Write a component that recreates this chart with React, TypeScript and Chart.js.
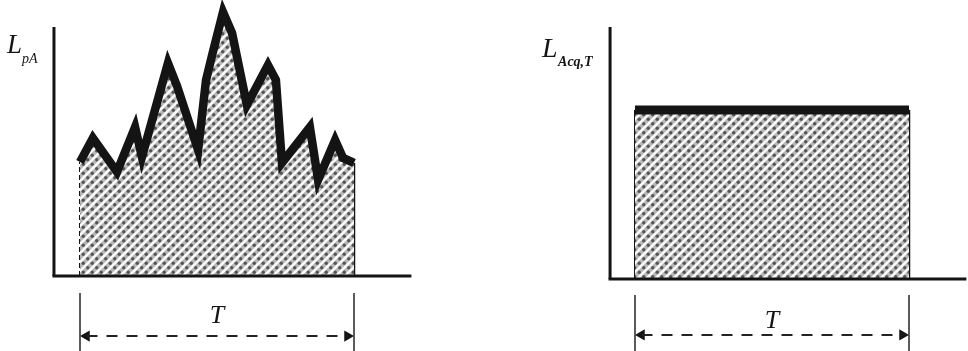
import React, { useEffect, useRef } from "react";
import { Chart, registerables } from "chart.js";

Chart.register(...registerables);

// ---- data ----
// Left panel: instantaneous A-weighted level L_pA over the period T (0..100)
const lpaTimes = [0, 4.7, 13.5, 20.1, 22.6, 32.1, 35.4, 43.1, 46.0, 48.5, 52.2, 55.5, 60.9, 68.6, 71.5, 73.7, 83.9, 86.9, 93.1, 96.0, 100];
const lpaLevels = [45.8, 55.4, 41.8, 59.8, 47.8, 85.5, 76.3, 50.6, 78.7, 90.0, 106.0, 97.6, 68.7, 84.7, 78.7, 45.4, 59.8, 38.6, 54.6, 47.4, 45.4];
// Right panel: equivalent continuous level over the same period
const laeqTimes = [0, 100];
const laeqLevels = [67.1, 67.1];
// Period bounds and labels
const periodBounds = [0, 100];
const leftAxisLabel = ["L", "pA"];
const rightAxisLabel = ["L", "Acq,T"];
const periodLabel = "T";

type PanelSpec = {
  times: number[];
  levels: number[];
  axisLabel: string[];
  xMin: number;
  xMax: number;
  yMin: number;
  yMax: number;
  axisX: number;
  axisTop: number;
  axisRight: number;
  tickTop: number;
  arrowY: number;
  labelY: number;
  pxPerX: number;
  topWidth: number;
  leftDashed: boolean;
  lab: { lx: number; ly: number; sx: number; sy: number; lsize: number; ssize: number; sweight: string };
};

const INK = "#141414";

function makePattern(): CanvasPattern | string {
  const s = 9;
  const t = document.createElement("canvas");
  t.width = s;
  t.height = s;
  const c = t.getContext("2d");
  if (!c) return "#b0b0b0";
  c.fillStyle = "#b8b8b8";
  c.fillRect(0, 0, s, s);
  c.strokeStyle = "#fafafa";
  c.lineWidth = 2.6;
  for (const k of [0, s, 2 * s]) {
    c.beginPath();
    c.moveTo(k + 1, -1);
    c.lineTo(-1, k + 1);
    c.stroke();
  }
  c.fillStyle = "#555555";
  for (const p of [2.25, 6.75]) {
    c.beginPath();
    c.arc(p, p, 1.7, 0, Math.PI * 2);
    c.fill();
  }
  const pat = c.createPattern(t, "repeat");
  return pat || "#b0b0b0";
}

function buildChart(canvas: HTMLCanvasElement, spec: PanelSpec) {
  const pattern = makePattern();
  const [t0, t1] = periodBounds;
  const headR = 6.5;
  const off = headR / spec.pxPerX;
  const series = spec.times.map((t, i) => ({ x: t, y: spec.levels[i] }));
  const first = spec.levels[0];
  const last = spec.levels[spec.levels.length - 1];

  const labelPlugin = {
    id: "panelLabels",
    afterDraw(chart: any) {
      const ctx = chart.ctx as CanvasRenderingContext2D;
      const xs = chart.scales.x;
      const ys = chart.scales.y;
      ctx.save();
      ctx.fillStyle = INK;
      ctx.font = 'italic 26px "Liberation Serif", "DejaVu Serif", serif';
      ctx.textAlign = "center";
      ctx.textBaseline = "middle";
      ctx.fillText(periodLabel, xs.getPixelForValue((t0 + t1) / 2), ys.getPixelForValue(spec.labelY));
      const ax = xs.getPixelForValue(spec.axisX);
      const at = ys.getPixelForValue(spec.axisTop);
      ctx.textAlign = "left";
      ctx.textBaseline = "alphabetic";
      ctx.font = `italic ${spec.lab.lsize}px "Liberation Serif", "DejaVu Serif", serif`;
      ctx.fillText(spec.axisLabel[0], ax + spec.lab.lx, at + spec.lab.ly);
      ctx.font = `italic ${spec.lab.sweight} ${spec.lab.ssize}px "Liberation Serif", "DejaVu Serif", serif`;
      ctx.fillText(spec.axisLabel[1], ax + spec.lab.sx, at + spec.lab.sy);
      ctx.restore();
    },
  };

  const line = (data: { x: number; y: number }[], extra: any) => ({
    data,
    showLine: true,
    pointRadius: 0,
    borderColor: INK,
    backgroundColor: INK,
    tension: 0,
    fill: false,
    clip: false,
    ...extra,
  });

  return new Chart(canvas, {
    type: "scatter",
    data: {
      datasets: [
        // signal / level line with hatched area
        line(series, {
          borderWidth: spec.topWidth,
          borderJoinStyle: "miter",
          borderCapStyle: "butt",
          fill: "origin",
          backgroundColor: pattern,
          order: 1,
        }),
        // period edges
        line([{ x: t0, y: 0 }, { x: t0, y: first }], {
          borderWidth: 2,
          borderDash: spec.leftDashed ? [5, 3] : [],
          order: 2,
        }),
        line([{ x: t1, y: 0 }, { x: t1, y: last }], { borderWidth: 2.5, order: 2 }),
        // axes
        line([{ x: spec.axisX, y: 0 }, { x: spec.axisRight, y: 0 }], { borderWidth: 3, borderCapStyle: "square", order: 0 }),
        line([{ x: spec.axisX, y: 0 }, { x: spec.axisX, y: spec.axisTop }], { borderWidth: 3, borderCapStyle: "butt", order: 0 }),
        // dimension ticks
        line([{ x: t0, y: spec.tickTop }, { x: t0, y: spec.yMin }], { borderWidth: 1.6, borderColor: "#333", order: 0 }),
        line([{ x: t1, y: spec.tickTop }, { x: t1, y: spec.yMin }], { borderWidth: 1.6, borderColor: "#333", order: 0 }),
        // dashed dimension line
        line([{ x: t0 + off, y: spec.arrowY }, { x: t1 - off, y: spec.arrowY }], {
          borderWidth: 2,
          borderDash: [11, 9],
          borderColor: "#222",
          order: 0,
        }),
        // arrow heads
        {
          data: [{ x: t0 + off, y: spec.arrowY }, { x: t1 - off, y: spec.arrowY }],
          showLine: false,
          pointStyle: "triangle",
          pointRadius: headR,
          pointRotation: [-90, 90],
          pointBorderWidth: 0,
          pointBackgroundColor: INK,
          pointBorderColor: INK,
          clip: false,
          order: 0,
        } as any,
      ],
    },
    options: {
      animation: false,
      responsive: false,
      maintainAspectRatio: false,
      layout: { padding: 0, autoPadding: false },
      events: [],
      scales: {
        x: { type: "linear", display: false, min: spec.xMin, max: spec.xMax },
        y: { type: "linear", display: false, min: spec.yMin, max: spec.yMax },
      },
      plugins: {
        legend: { display: false },
        tooltip: { enabled: false },
        title: { display: false },
      },
    },
    plugins: [labelPlugin],
  } as any);
}

const leftSpec: PanelSpec = {
  times: lpaTimes,
  levels: lpaLevels,
  axisLabel: leftAxisLabel,
  xMin: -80 / 2.74,
  xMax: (484 - 80) / 2.74,
  yMin: -(351 - 276) / 2.49,
  yMax: 276 / 2.49,
  axisX: -9.5,
  axisTop: 100,
  axisRight: 120.4,
  tickTop: -6.8,
  arrowY: -24.1,
  labelY: -16.3,
  pxPerX: 2.74,
  topWidth: 8.5,
  leftDashed: true,
  lab: { lx: -47, ly: 26, sx: -32, sy: 36, lsize: 27, ssize: 14, sweight: "normal" },
};

const rightSpec: PanelSpec = {
  times: laeqTimes,
  levels: laeqLevels,
  axisLabel: rightAxisLabel,
  xMin: -151 / 2.74,
  xMax: (484 - 151) / 2.74,
  yMin: -(351 - 279) / 2.52,
  yMax: 279 / 2.52,
  axisX: -9.1,
  axisTop: 100,
  axisRight: 120.4,
  tickTop: -6.3,
  arrowY: -22.2,
  labelY: -16.9,
  pxPerX: 2.74,
  topWidth: 9,
  leftDashed: false,
  lab: { lx: -68, ly: 30, sx: -52, sy: 39, lsize: 28, ssize: 14, sweight: "bold" },
};

function Panel({ spec, left }: { spec: PanelSpec; left: number }) {
  const ref = useRef<HTMLCanvasElement | null>(null);
  useEffect(() => {
    if (!ref.current) return;
    const chart = buildChart(ref.current, spec);
    return () => chart.destroy();
  }, [spec]);
  return (
    <canvas
      ref={ref}
      width={484}
      height={351}
      style={{ position: "absolute", left, top: 0, width: 484, height: 351 }}
    />
  );
}

export default function App() {
  return (
    <div style={{ position: "fixed", left: 0, top: 0, width: 968, height: 351, background: "#ffffff", overflow: "hidden" }}>
      <Panel spec={leftSpec} left={0} />
      <Panel spec={rightSpec} left={484} />
    </div>
  );
}
